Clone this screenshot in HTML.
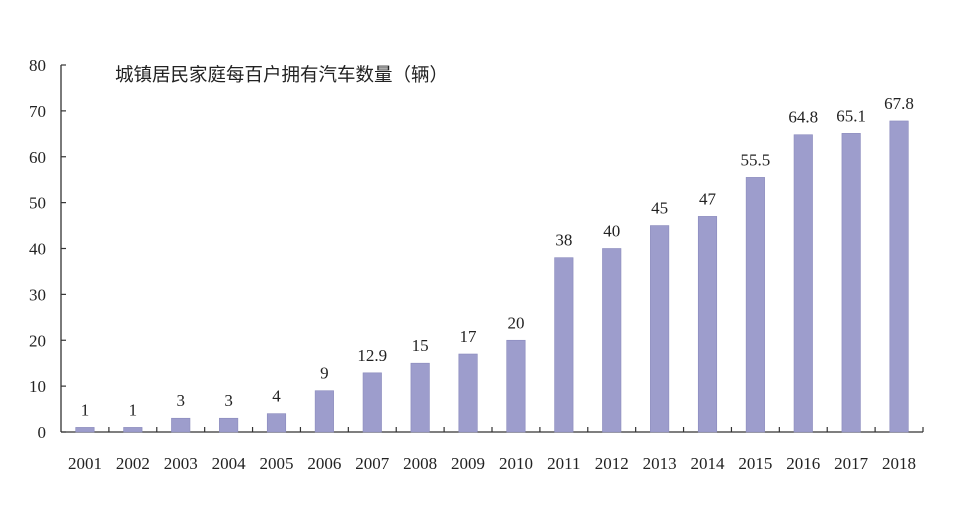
<!DOCTYPE html>
<html><head><meta charset="utf-8"><style>
body{margin:0;background:#fff;}
svg text{font-family:"Liberation Serif","Noto Serif CJK SC",serif;fill:#222;}
</style></head><body>
<svg id="chart" width="960" height="522" xmlns="http://www.w3.org/2000/svg">
<text x="115" y="81" font-size="18.5" style="font-family:'Liberation Sans','Noto Sans CJK SC',sans-serif">城镇居民家庭每百户拥有汽车数量（辆）</text>
<g id="axes"></g><g id="bars"></g>
</svg>
<script>
const categories=["2001","2002","2003","2004","2005","2006","2007","2008","2009","2010","2011","2012","2013","2014","2015","2016","2017","2018"];
const values=[1,1,3,3,4,9,12.9,15,17,20,38,40,45,47,55.5,64.8,65.1,67.8];
const valueLabels=["1","1","3","3","4","9","12.9","15","17","20","38","40","45","47","55.5","64.8","65.1","67.8"];
const yTicks=[0,10,20,30,40,50,60,70,80];
const NS="http://www.w3.org/2000/svg";
const x0=61,x1=923,y0=432,yTop=65,yMax=80;
const band=(x1-x0)/categories.length,bw=18.5;
const ys=v=>y0-(v/yMax)*(y0-yTop);
const xc=i=>x0+band*(i+0.5);
function mk(t,a,p){const e=document.createElementNS(NS,t);for(const k in a)e.setAttribute(k,a[k]);p.appendChild(e);return e;}
const ax=document.getElementById('axes'),bg=document.getElementById('bars');
const yl=mk('line',{x1:x0,y1:yTop,x2:x0,y2:y0,stroke:'#333','stroke-width':1.3},ax);


const xl=mk('line',{x1:x0,y1:y0,x2:x1,y2:y0,stroke:'#333','stroke-width':1.3},ax);


yTicks.forEach(v=>{
 const tk=mk('line',{x1:x0,y1:ys(v),x2:x0+5,y2:ys(v),stroke:'#333','stroke-width':1.2},ax);
 
 
 const t=mk('text',{x:46,y:ys(v)+6,'text-anchor':'end','font-size':17},ax);
 
 
 t.textContent=v;
});
for(let i=1;i<=categories.length;i++){
 const tk=mk('line',{x1:x0+band*i,y1:y0,x2:x0+band*i,y2:y0-5,stroke:'#333','stroke-width':1.2},ax);
 
 
}
categories.forEach((c,i)=>{
 const r=mk('rect',{x:xc(i)-bw/2,y:ys(values[i]),width:bw,height:y0-ys(values[i]),fill:'#9d9dcc',stroke:'#8a8abc','stroke-width':0.6},bg);
 
 
 const l=mk('text',{x:xc(i),y:ys(values[i])-12,'text-anchor':'middle','font-size':17},bg);
 
 
 l.textContent=valueLabels[i];
 const t=mk('text',{x:xc(i),y:469,'text-anchor':'middle','font-size':17},ax);
 
 
 t.textContent=c;
});
</script>
</body></html>
